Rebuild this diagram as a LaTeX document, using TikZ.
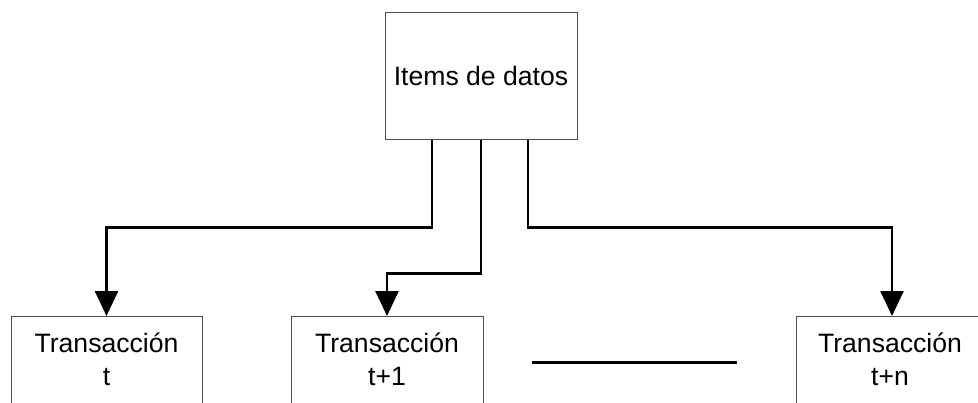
\documentclass[tikz,border=0pt]{standalone}
\usepackage{fontspec}
\setmainfont{Liberation Sans}
\usetikzlibrary{arrows.meta}
\begin{document}
\begin{tikzpicture}[x=1pt,y=1pt,
  boxstyle/.style={draw=black!70,line width=1pt,fill=white,rectangle,inner sep=0pt},
  lbl/.style={font=\fontsize{26.6}{33}\selectfont,align=center,inner sep=0pt},
  conn/.style={line width=2.6pt,-{Triangle[length=25pt,width=23pt]}}]
\useasboundingbox (0,0) rectangle (978,-402);
\clip (0,0) rectangle (978,-402);
\fill[white] (0,0) rectangle (978,-402);
% top box
\node[boxstyle,lbl,minimum width=192pt,minimum height=127pt] (top) at (481,-75.5) {Items de datos};
% bottom boxes
\node[boxstyle,anchor=north,minimum width=191pt,minimum height=130pt] (b1) at (106.5,-316) {};
\node[boxstyle,anchor=north,minimum width=192pt,minimum height=130pt] (b2) at (387,-316) {};
\node[boxstyle,anchor=north west,minimum width=300pt,minimum height=130pt] (b3) at (796,-316) {};
\node[lbl] (t1) at (106.5,-359) {Transacción\\t};
\node[lbl] (t2) at (387,-359) {Transacción\\t+1};
\node[lbl] (t3) at (890,-359) {Transacción\\t+n};
% connectors
\draw[conn] ([xshift=-49pt]top.south) -- ++(0,-88) -| (b1.north);
\draw[conn] (top.south) -- ++(0,-134) -| (b2.north);
\coordinate (b3in) at (892,-316);
\draw[conn] ([xshift=47pt]top.south) -- ++(0,-88) -| (b3in);
% separator
\coordinate (sepL) at (532,-362);
\coordinate (sepR) at (737,-362);
\draw[line width=3pt] (sepL) -- (sepR);
\end{tikzpicture}
\end{document}
